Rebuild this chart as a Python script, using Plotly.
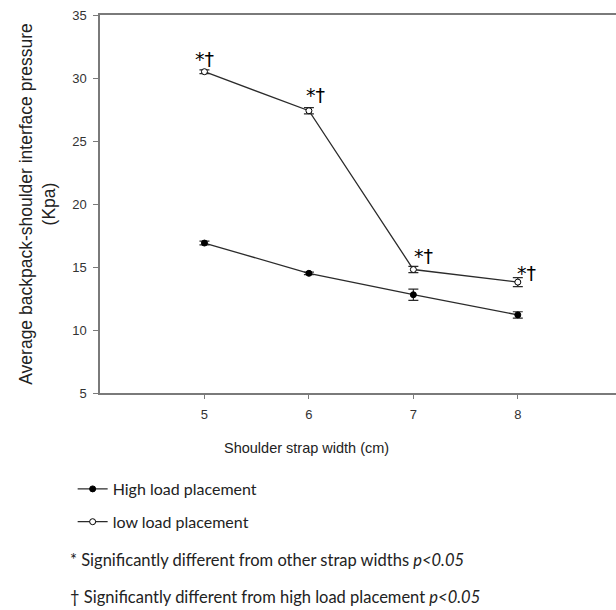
import plotly.graph_objects as go

# Shoulder strap widths (cm)
strap_width = [5, 6, 7, 8]

# Mean interface pressure (kPa) and SE for each load placement
high_load = [16.9, 14.5, 12.8, 11.2]
high_err = [0.15, 0.1, 0.45, 0.25]
low_load = [30.5, 27.4, 14.8, 13.8]
low_err = [0.15, 0.25, 0.25, 0.35]

# Significance markers above the low-load points
sig_labels = ["*\u2020", "*\u2020", "*\u2020", "*\u2020"]

y_ticks = [5, 10, 15, 20, 25, 30, 35]

line_col = "#2b2b2b"
axis_col = "#7a7a7a"

fig = go.Figure()

fig.add_trace(go.Scatter(
    x=strap_width, y=high_load, name="High load placement",
    mode="lines+markers", legendgroup="a",
    line=dict(color=line_col, width=1.3),
    marker=dict(symbol="circle", size=6, color="black", line=dict(color="black", width=1)),
    error_y=dict(type="data", array=high_err, color=line_col, thickness=1.2, width=5),
))
fig.add_trace(go.Scatter(
    x=strap_width, y=low_load, name="low load placement",
    mode="lines+markers", legendgroup="b",
    line=dict(color=line_col, width=1.3),
    marker=dict(symbol="circle", size=6, color="white", line=dict(color="black", width=1)),
    error_y=dict(type="data", array=low_err, color=line_col, thickness=1.2, width=5),
))

# "*†" labels next to each low-load point
shifts = [(0, 0), (-5, 3), (-1, 1), (-3, -4)]
for xv, yv, lab, (dx, dy) in zip(strap_width, low_load, sig_labels, shifts):
    fig.add_annotation(
        x=xv, y=yv, text=lab, showarrow=False,
        xanchor="center" if xv == 5 else "left",
        yanchor="bottom", xshift=dx, yshift=dy,
        font=dict(family="DejaVu Sans", size=19, color="black"),
    )

# x-axis title
fig.add_annotation(
    xref="paper", yref="paper", x=0.401, y=-0.145,
    text="Shoulder strap width (cm)", showarrow=False,
    xanchor="center", yanchor="middle",
    font=dict(family="Liberation Sans", size=14.5, color="#222"),
)

# Footnotes
foot_font = dict(family="Lato", size=16.5, color="#222")
fig.add_annotation(
    xref="paper", yref="paper", x=-0.062, y=-0.442,
    text="* Significantly different from other strap widths <i>p<0.05</i>",
    showarrow=False, xanchor="left", yanchor="middle", font=foot_font,
)
fig.add_annotation(
    xref="paper", yref="paper", x=-0.062, y=-0.540,
    text="\u2020 Significantly different from high load placement <i>p<0.05</i>",
    showarrow=False, xanchor="left", yanchor="middle", font=foot_font,
)

fig.update_layout(
    width=616, height=610,
    margin=dict(l=100, r=0, t=15, b=217),
    paper_bgcolor="white", plot_bgcolor="white",
    font=dict(family="Liberation Sans", color="#333"),
    showlegend=True,
    legend=dict(
        x=-0.053, y=-0.209, xanchor="left", yanchor="top",
        font=dict(family="Lato", size=16, color="#222"),
        tracegroupgap=9, itemwidth=30, bgcolor="rgba(0,0,0,0)",
    ),
    xaxis=dict(
        range=[4, 8.94], tickvals=strap_width, ticks="outside", ticklen=4,
        tickcolor=axis_col, showline=True, linecolor=axis_col, linewidth=1.5,
        mirror=True, showgrid=False, zeroline=False,
        tickfont=dict(size=13, color="#333"), ticklabelstandoff=5,
    ),
    yaxis=dict(
        range=[5, 35], tickvals=y_ticks, ticks="outside", ticklen=5,
        tickcolor=axis_col, showline=True, linecolor=axis_col, linewidth=1.5,
        showgrid=False, zeroline=False,
        tickfont=dict(size=13, color="#333"), ticklabelstandoff=4,
        title=dict(text="Average backpack-shoulder interface pressure<br>(Kpa)",
                   font=dict(size=17.5, color="#222"), standoff=12),
    ),
)

fig.write_html("out.html")
